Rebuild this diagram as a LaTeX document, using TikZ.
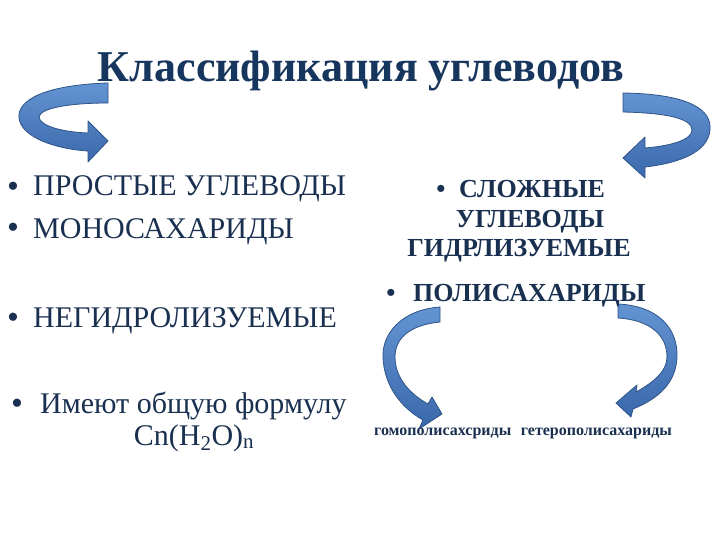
\documentclass[tikz,border=0pt]{standalone}
\usepackage{fontspec}
\setmainfont{Liberation Serif}
\definecolor{navy}{HTML}{1A3050}
\definecolor{tnavy}{HTML}{17365E}
\definecolor{arrtop}{HTML}{6394D2}
\definecolor{arrbot}{HTML}{3A68AC}
\definecolor{arredge}{HTML}{2E5488}
\begin{document}
\begin{tikzpicture}[x=1pt,y=-1pt,
  blockarrow/.style={draw=arredge, line width=0.8pt, top color=arrtop, bottom color=arrbot, line join=round},
  lefttxt/.style={anchor=base west, inner sep=0pt, text=navy, font=\fontsize{30}{34}\selectfont},
  leftbul/.style={anchor=base, inner sep=0pt, text=navy, font=\fontsize{34}{38}\selectfont},
  formtxt/.style={anchor=base, inner sep=0pt, text=navy, font=\fontsize{30}{34}\selectfont},
  righttxt/.style={anchor=base, inner sep=0pt, text=navy, font=\fontsize{26}{30}\selectfont\bfseries},
  titletxt/.style={anchor=base, inner sep=0pt, text=tnavy, font=\fontsize{44}{50}\selectfont\bfseries},
  smalltxt/.style={anchor=base, inner sep=0pt, text=navy, font=\fontsize{16}{19}\selectfont\bfseries}]
\useasboundingbox[fill=white] (0,0) rectangle (720,540);

% title
\node[titletxt] (title) at (361,82) {Классификация углеводов};

% curved block arrows
\path[blockarrow] (108,83) .. controls (45,85) and (17,100) .. (19,118) .. controls (21,137) and (55,149) .. (88,151) -- (88,162) -- (108,141) -- (88,121) -- (88,133) .. controls (62,132) and (40,126) .. (39,117) .. controls (40,108) and (70,103) .. (108,103) -- cycle;
\path[blockarrow] (623,93) .. controls (690,94) and (712,110) .. (710,130) .. controls (708,152) and (680,163) .. (645,167) -- (645,178) -- (623,158) -- (645,137) -- (645,148) .. controls (670,146) and (692,140) .. (692,130) .. controls (692,118) and (665,113) .. (623,112) -- cycle;
\path[blockarrow] (440,307) .. controls (400,310) and (382,335) .. (383,357) .. controls (384,385) and (400,407) .. (423,420) -- (419,429) -- (442,414) -- (432,397) -- (428,404) .. controls (410,394) and (395,378) .. (395,357) .. controls (395,338) and (410,325) .. (440,322) -- cycle;
\path[blockarrow] (618,304) .. controls (660,306) and (678,330) .. (677,357) .. controls (676,382) and (660,398) .. (633,409) -- (631,417) -- (616,403) -- (637,385) -- (636,392) .. controls (656,381) and (667,370) .. (667,357) .. controls (667,335) and (650,320) .. (618,318) -- cycle;

% left column
\node[leftbul] (lb1) at (13,197) {•};
\node[lefttxt] (l1) at (33,196) {ПРОСТЫЕ УГЛЕВОДЫ};
\node[leftbul] (lb2) at (13,239) {•};
\node[lefttxt] (l2) at (33,238) {МОНОСАХАРИДЫ};
\node[leftbul] (lb3) at (13,328) {•};
\node[lefttxt] (l3) at (33,327) {НЕГИДРОЛИЗУЕМЫЕ};
\node[leftbul] (lb4) at (17,414) {•};
\node[lefttxt] (l4) at (40,413) {Имеют общую формулу};
\node[formtxt] (l5) at (194,445) {Cn(H\textsubscript{2}O)\textsubscript{n}};

% right column
\node[righttxt] (rb1) at (441,198) {•};
\node[righttxt] (r1) at (532,198) {СЛОЖНЫЕ};
\node[righttxt] (r2) at (530,227) {УГЛЕВОДЫ};
\node[righttxt] (r3) at (519,256) {ГИДРЛИЗУЕМЫЕ};
\node[righttxt] (rb4) at (391,301) {•};
\node[righttxt, anchor=base west] (r4) at (413,301) {ПОЛИСАХАРИДЫ};

% bottom labels
\node[smalltxt] (bot) at (523,435) {гомополисахсриды\hspace{0.6em}гетерополисахариды};
\end{tikzpicture}
\end{document}
